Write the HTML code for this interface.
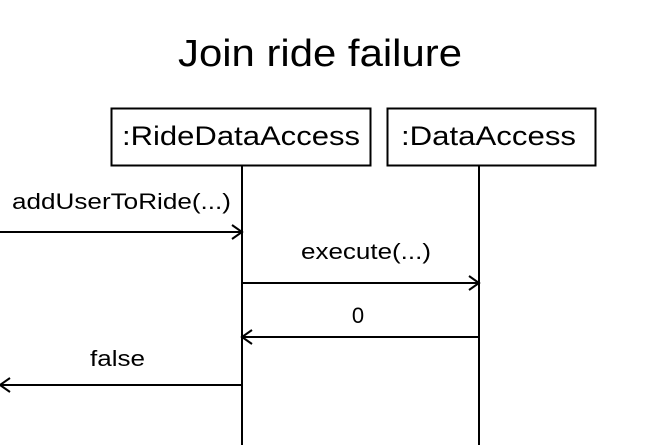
<!DOCTYPE html>
<html><head><style>
html,body{margin:0;padding:0;background:#fff;width:645px;height:445px;overflow:hidden}
svg{display:block}
text{font-family:"Liberation Sans",sans-serif;fill:#000}
</style></head><body>
<svg width="645" height="445" viewBox="0 0 645 445">
<text x="178" y="66" font-size="38" textLength="284" lengthAdjust="spacingAndGlyphs">Join ride failure</text>
<rect x="111.5" y="108.5" width="259" height="57" fill="#fff" stroke="#000" stroke-width="2"/>
<text x="122" y="145" font-size="27" textLength="238" lengthAdjust="spacingAndGlyphs">:RideDataAccess</text>
<rect x="387.5" y="108.5" width="208" height="57" fill="#fff" stroke="#000" stroke-width="2"/>
<text x="401" y="145" font-size="27" textLength="175" lengthAdjust="spacingAndGlyphs">:DataAccess</text>
<g stroke="#000" stroke-width="2" fill="none">
<line x1="242" y1="166" x2="242" y2="445"/>
<line x1="479" y1="166" x2="479" y2="445"/>
<line x1="0" y1="232" x2="242" y2="232"/>
<polyline points="232,225 242,232 232,239"/>
<line x1="242" y1="283" x2="479" y2="283"/>
<polyline points="469,276 479,283 469,290"/>
<line x1="479" y1="337" x2="242" y2="337"/>
<polyline points="252,330 242,337 252,344"/>
<line x1="242" y1="385" x2="0" y2="385"/>
<polyline points="10,378 0,385 10,392"/>
</g>
<text x="12" y="209" font-size="22" textLength="219" lengthAdjust="spacingAndGlyphs">addUserToRide(...)</text>
<text x="301" y="259" font-size="22" textLength="130" lengthAdjust="spacingAndGlyphs">execute(...)</text>
<text x="358" y="323" font-size="22" text-anchor="middle">0</text>
<text x="90" y="366" font-size="22" textLength="55" lengthAdjust="spacingAndGlyphs">false</text>
</svg>
</body></html>
